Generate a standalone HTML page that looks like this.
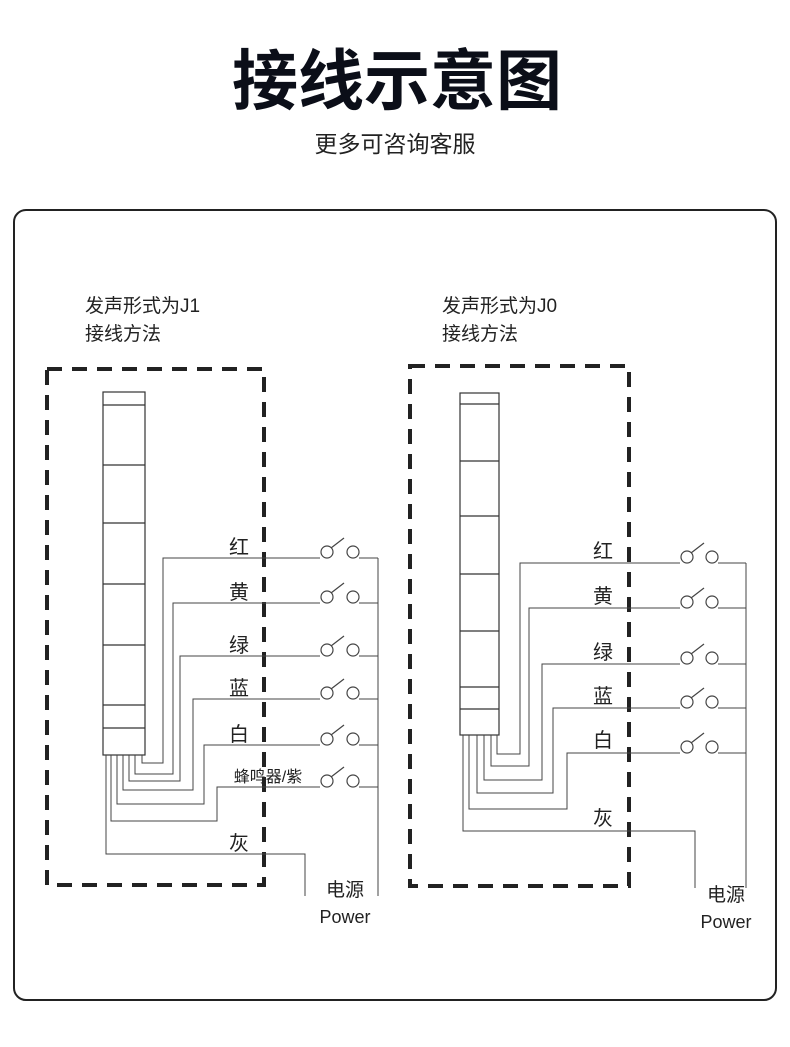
<!DOCTYPE html>
<html><head><meta charset="utf-8"><style>
html,body{margin:0;padding:0;background:#fff;width:790px;height:1047px;overflow:hidden}
svg{display:block}
text{font-family:"Liberation Sans","Noto Sans CJK SC",sans-serif;fill:#222}
</style></head><body>
<svg width="790" height="1047" viewBox="0 0 790 1047" xmlns="http://www.w3.org/2000/svg">
<text x="397" y="104" text-anchor="middle" font-size="66" font-weight="bold" fill="#0b0e18" style="fill:#0b0e18">接线示意图</text>
<text x="395" y="152" text-anchor="middle" font-size="23">更多可咨询客服</text>
<rect x="14" y="210" width="762" height="790" rx="12" ry="12" fill="none" stroke="#222" stroke-width="2"/>

<text x="85" y="312" font-size="19">发声形式为J1</text>
<text x="85" y="340" font-size="19">接线方法</text>
<text x="442" y="312" font-size="19">发声形式为J0</text>
<text x="442" y="340" font-size="19">接线方法</text>

<g fill="none" stroke="#222" stroke-width="4" stroke-dasharray="15,10">
<rect x="47" y="369" width="217" height="516"/>
<rect x="410" y="366" width="219" height="520"/>
</g>

<!-- LEFT lamp -->
<g fill="none" stroke="#333" stroke-width="1.2">
<rect x="103" y="392" width="42" height="363"/>
<path d="M103 405H145M103 465H145M103 523H145M103 584H145M103 645H145M103 705H145M103 728H145"/>
</g>
<g fill="none" stroke="#444" stroke-width="1">
<path d="M142 755V763H163V558H320"/>
<path d="M135 755V774H173V603H320"/>
<path d="M129 755V781H180V656H320"/>
<path d="M123 755V790H193V699H320"/>
<path d="M117 755V804H204V745H320"/>
<path d="M111 755V821H217V787H320"/>
<path d="M106 755V854H305V896"/>
<path d="M378 558V896"/>
<path d="M359 558H378M359 603H378M359 656H378M359 699H378M359 745H378M359 787H378"/>
</g>
<g fill="none" stroke="#444" stroke-width="1.2">
<g transform="translate(0,558)"><circle cx="327" cy="-6" r="6"/><circle cx="353" cy="-6" r="6"/><path d="M331 -10L344 -20"/></g>
<g transform="translate(0,603)"><circle cx="327" cy="-6" r="6"/><circle cx="353" cy="-6" r="6"/><path d="M331 -10L344 -20"/></g>
<g transform="translate(0,656)"><circle cx="327" cy="-6" r="6"/><circle cx="353" cy="-6" r="6"/><path d="M331 -10L344 -20"/></g>
<g transform="translate(0,699)"><circle cx="327" cy="-6" r="6"/><circle cx="353" cy="-6" r="6"/><path d="M331 -10L344 -20"/></g>
<g transform="translate(0,745)"><circle cx="327" cy="-6" r="6"/><circle cx="353" cy="-6" r="6"/><path d="M331 -10L344 -20"/></g>
<g transform="translate(0,787)"><circle cx="327" cy="-6" r="6"/><circle cx="353" cy="-6" r="6"/><path d="M331 -10L344 -20"/></g>
</g>
<g font-size="20" text-anchor="middle">
<text x="239" y="554">红</text>
<text x="239" y="599">黄</text>
<text x="239" y="652">绿</text>
<text x="239" y="695">蓝</text>
<text x="239" y="741">白</text>
<text x="268" y="782" font-size="16">蜂鸣器/紫</text>
<text x="239" y="850">灰</text>
<text x="345" y="896" font-size="19">电源</text>
<text x="345" y="923" font-size="18">Power</text>
</g>

<!-- RIGHT lamp -->
<g fill="none" stroke="#333" stroke-width="1.2">
<rect x="460" y="393" width="39" height="342"/>
<path d="M460 404H499M460 461H499M460 516H499M460 574H499M460 631H499M460 687H499M460 709H499"/>
</g>
<g fill="none" stroke="#444" stroke-width="1">
<path d="M497 735V754H520V563H680"/>
<path d="M491 735V766H529V608H680"/>
<path d="M484 735V780H542V664H680"/>
<path d="M477 735V793H553V708H680"/>
<path d="M469 735V809H567V753H680"/>
<path d="M463 735V831H695V888"/>
<path d="M746 563V888"/>
<path d="M718 563H746M718 608H746M718 664H746M718 708H746M718 753H746"/>
</g>
<g fill="none" stroke="#444" stroke-width="1.2">
<g transform="translate(0,563)"><circle cx="687" cy="-6" r="6"/><circle cx="712" cy="-6" r="6"/><path d="M691 -10L704 -20"/></g>
<g transform="translate(0,608)"><circle cx="687" cy="-6" r="6"/><circle cx="712" cy="-6" r="6"/><path d="M691 -10L704 -20"/></g>
<g transform="translate(0,664)"><circle cx="687" cy="-6" r="6"/><circle cx="712" cy="-6" r="6"/><path d="M691 -10L704 -20"/></g>
<g transform="translate(0,708)"><circle cx="687" cy="-6" r="6"/><circle cx="712" cy="-6" r="6"/><path d="M691 -10L704 -20"/></g>
<g transform="translate(0,753)"><circle cx="687" cy="-6" r="6"/><circle cx="712" cy="-6" r="6"/><path d="M691 -10L704 -20"/></g>
</g>
<g font-size="20" text-anchor="middle">
<text x="603" y="558">红</text>
<text x="603" y="603">黄</text>
<text x="603" y="659">绿</text>
<text x="603" y="703">蓝</text>
<text x="603" y="747">白</text>
<text x="603" y="825">灰</text>
<text x="726" y="901" font-size="19">电源</text>
<text x="726" y="928" font-size="18">Power</text>
</g>
</svg>
</body></html>
